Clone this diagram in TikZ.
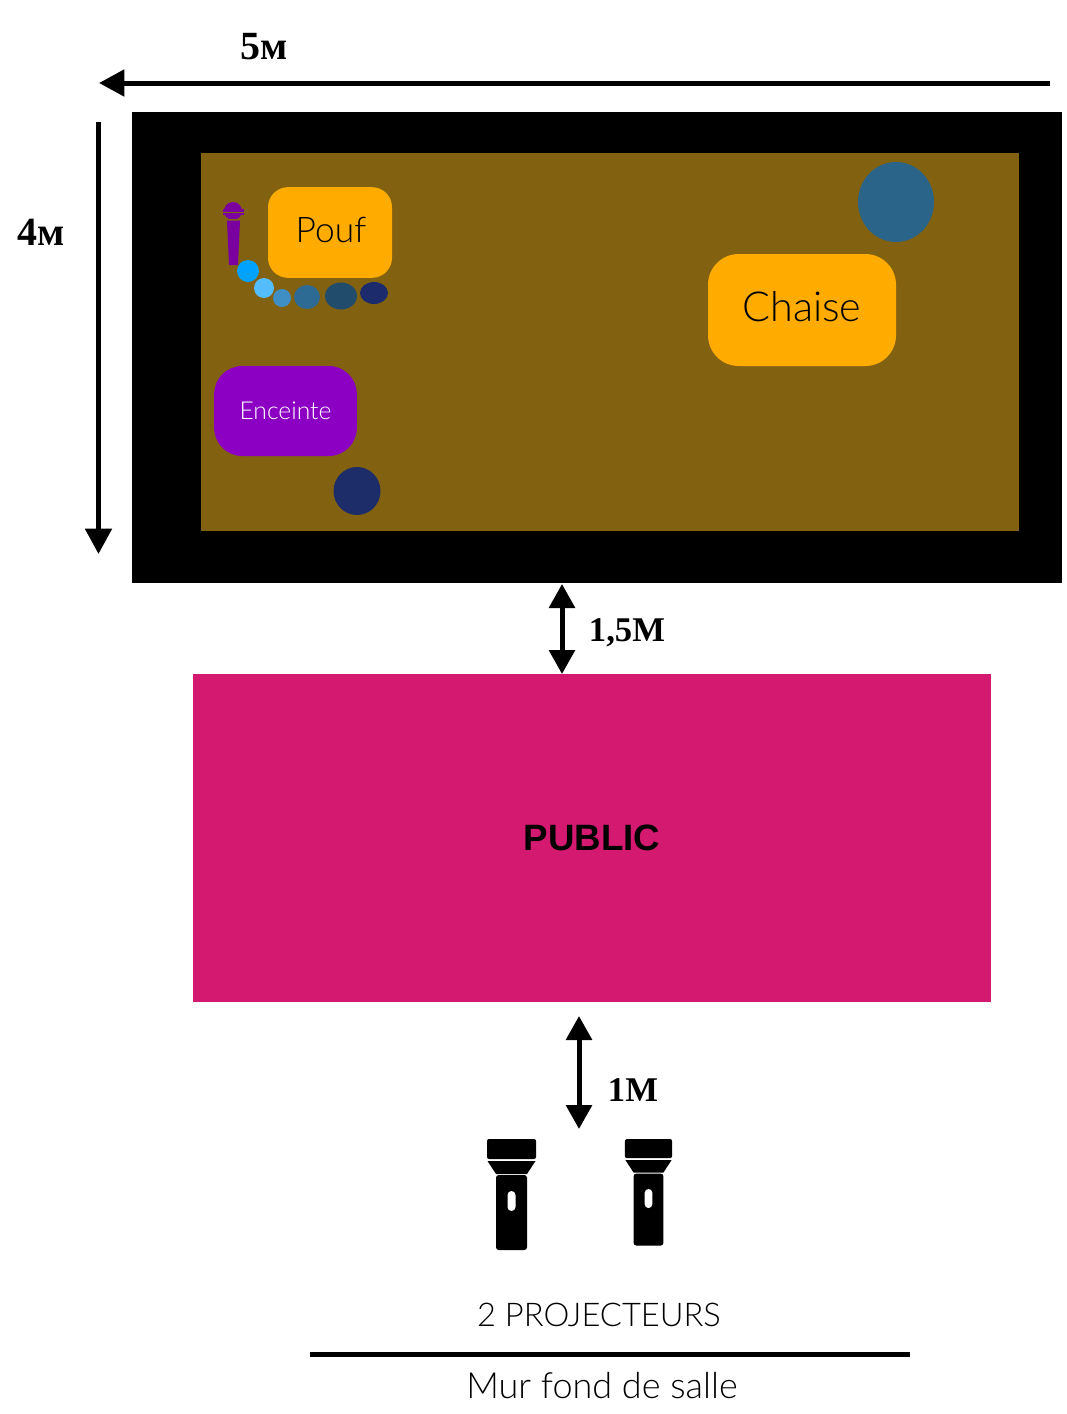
\documentclass[tikz,border=0pt]{standalone}
\usepackage{fontspec}
\setmainfont{Lato Light}
\newfontfamily\dimfont{Liberation Serif}
\newfontfamily\pubfont{Liberation Sans}
\usetikzlibrary{arrows.meta}
\definecolor{stagebrown}{HTML}{826210}
\definecolor{seatorange}{HTML}{FFAB00}
\definecolor{speakerviolet}{HTML}{8C00C4}
\definecolor{micviolet}{HTML}{7A00A0}
\definecolor{publicpink}{HTML}{D41971}
\tikzset{dimarrow/.style={line width=3.75pt,-{Triangle[length=19pt,width=19.5pt]}}}
\tikzset{dimboth/.style={line width=3.75pt,{Triangle[length=18pt,width=19pt]}-{Triangle[length=18pt,width=19pt]}}}
\tikzset{dimlabel/.style={font=\dimfont\bfseries\fontsize{26}{26}\selectfont,inner sep=0pt}}
\tikzset{dimsmall/.style={font=\dimfont\bfseries\fontsize{30}{30}\selectfont,inner sep=0pt}}
\tikzset{seatbox/.style={fill=seatorange,inner sep=0pt}}
\tikzset{
  flashlight/.pic={
    \fill[rounded corners=1.5pt] (-24.5,0) rectangle (24.5,20);
    \fill (-24,22) -- (24,22) -- (15.5,35) -- (-15.5,35) -- cycle;
    \fill[rounded corners=2pt] (-15.5,36) -- (15.5,36) -- (15.5,111) -- (-15.5,111) -- cycle;
    \fill[white,rounded corners=3pt] (-4,52) rectangle (4,72);
  }
}

\begin{document}
\begin{tikzpicture}[x=0.75pt,y=-0.75pt]
    \useasboundingbox (0,0) rectangle (1067,1414);

    % Stage
    \fill (132,112) rectangle (1062,583);
    \fill[stagebrown] (201,153) rectangle (1019,531);

    % Seats and speaker
    \node[seatbox,rounded corners=15pt,minimum width=93pt,minimum height=68pt] (pouf) at (330,232.5) {};
    \node[font=\fontsize{26.5}{26.5}\selectfont,inner sep=0pt] (pouftext) at (331,230) {Pouf};
    \node[seatbox,rounded corners=23pt,minimum width=141pt,minimum height=84pt] (chaise) at (802,310) {};
    \node[font=\fontsize{31}{31}\selectfont,inner sep=0pt] (chaisetext) at (802,307) {Chaise};
    \node[fill=speakerviolet,text=white,rounded corners=21pt,inner sep=0pt,minimum width=107pt,minimum height=67.5pt,font=\fontsize{18.5}{18.5}\selectfont] (enceinte) at (285.5,411) {Enceinte};

    % Microphone
    \fill[micviolet] (233,211) circle (9);
    \fill[micviolet] (223,209) rectangle (244,215);
    \draw[stagebrown,line width=0.4pt] (223,212) -- (244,212);
    \draw[stagebrown,line width=0.4pt] (225,219) -- (241,219);
    \fill[micviolet] (227,220.5) -- (240,220.5) -- (238,265) -- (229,265) -- cycle;

    % Cable of dots
    \fill[fill={rgb,255:red,0;green,162;blue,255}] (248,271) circle (11);
    \fill[fill={rgb,255:red,85;green,189;blue,251}] (264,288) circle (10);
    \fill[fill={rgb,255:red,63;green,143;blue,196}] (282,298) circle (9);
    \fill[fill={rgb,255:red,45;green,106;blue,148}] (307,297) ellipse (13 and 12);
    \fill[fill={rgb,255:red,34;green,76;blue,107}] (341,296) ellipse (16 and 13.5);
    \fill[fill={rgb,255:red,27;green,43;blue,107}] (374,293) ellipse (14 and 11);
    \fill[fill={rgb,255:red,42;green,100;blue,136}] (896,202) ellipse (38 and 40);
    \fill[fill={rgb,255:red,28;green,45;blue,105}] (357,491) ellipse (23.5 and 24);

    % Public
    \node[fill=publicpink,inner sep=0pt,minimum width=598.5pt,minimum height=246pt,font=\pubfont\bfseries\fontsize{27.5}{27.5}\selectfont] (public) at (592,838) {PUBLIC};

    % Flashlights
    \pic at (511.5,1139) {flashlight};
    \pic[scale=0.96] at (648.5,1139) {flashlight};

    % Dimensions
    \coordinate (widthR) at (1050,83);
    \coordinate (widthL) at (99,83);
    \coordinate (depthT) at (98.5,122);
    \coordinate (depthB) at (98.5,554);
    \coordinate (gapT) at (562,584);
    \coordinate (gapB) at (562,674);
    \coordinate (lightT) at (579,1016);
    \coordinate (lightB) at (579,1129);
    \draw[dimarrow] (widthR) -- (widthL);
    \draw[dimarrow] (depthT) -- (depthB);
    \draw[dimboth] (gapT) -- (gapB);
    \draw[dimboth] (lightT) -- (lightB);

    % Labels
    \node[dimsmall] (width) at (264,47) {5м};
    \node[dimsmall] (depth) at (41,232) {4м};
    \node[dimlabel] (gap) at (627,633) {1,5M};
    \node[dimlabel] (light) at (633,1090) {1M};
    \node[font=\fontsize{24.5}{24.5}\selectfont,inner sep=0pt] (projecteurs) at (599,1315) {2 PROJECTEURS};

    % Back wall
    \coordinate (wallL) at (310,1354);
    \coordinate (wallR) at (910,1354);
    \draw[line width=3.75pt] (wallL) -- (wallR);
    \node[font=\fontsize{27}{27}\selectfont,inner sep=0pt] (mur) at (602,1386) {Mur fond de salle};
\end{tikzpicture}
\end{document}
